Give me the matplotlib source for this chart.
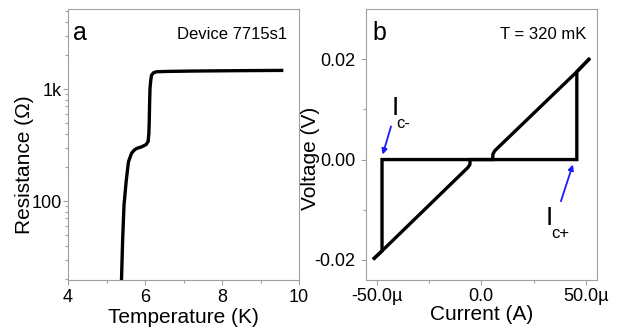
import numpy as np
import matplotlib
matplotlib.use('Agg')
import matplotlib.pyplot as plt
from matplotlib.ticker import FixedLocator, FuncFormatter, LogLocator, NullFormatter

plt.rcParams['font.family'] = ['Liberation Sans', 'DejaVu Sans']
plt.rcParams['axes.unicode_minus'] = False

# panel a: R(T)
temp_K = [5.39, 5.42, 5.455, 5.51, 5.57, 5.65, 5.72, 5.78, 5.85, 5.91, 5.97, 6.03,
          6.08, 6.10, 6.11, 6.12, 6.13, 6.15, 6.17, 6.22, 6.30, 6.6, 7.2, 8.0, 8.8, 9.55]
res_ohm = [20, 46, 92, 149, 224, 267, 285, 295, 300, 305, 312, 320,
           340, 400, 510, 750, 1015, 1200, 1333, 1400, 1430, 1440, 1450, 1458, 1465, 1470]

# panel b: I-V, up and down sweeps
i_up_uA = [-51.7, -47.4, -6.4, -5.4, -5.3, 45.7, 45.7, 52.0]
v_up_mV = [-19.9, -18.2, -1.6, -1.0, 0.0, 0.0, 17.5, 20.2]
i_dn_uA = [52.0, 45.7, 6.6, 5.6, 5.5, -47.4, -47.4, -51.7]
v_dn_mV = [20.2, 17.5, 1.8, 1.1, 0.0, 0.0, -18.2, -19.9]

GREY = '#a0a0a0'
W, H = 618, 327

fig = plt.figure(figsize=(W / 100, H / 100), dpi=100)
ax1 = fig.add_axes([68 / W, 1 - 280 / H, 231 / W, 271 / H])
ax2 = fig.add_axes([365.7 / W, 1 - 280 / H, 231 / W, 271 / H])

for ax in (ax1, ax2):
    for s in ax.spines.values():
        s.set_color(GREY)
        s.set_linewidth(0.8)
    ax.tick_params(which='both', direction='out', color=GREY, width=0.8,
                   labelsize=13, top=False, right=False)
    ax.tick_params(which='major', length=3.6)
    ax.tick_params(which='minor', length=2.2)

# --- a ---
ax1.plot(temp_K, res_ohm, color='k', lw=2.4, solid_joinstyle='round')
ax1.set_yscale('log')
ax1.set_xlim(4, 10)
ax1.set_ylim(19.7, 5200)
ax1.xaxis.set_major_locator(FixedLocator([4, 6, 8, 10]))
ax1.xaxis.set_minor_locator(FixedLocator([5, 7, 9]))
ax1.yaxis.set_major_locator(FixedLocator([100, 1000]))
ax1.yaxis.set_major_formatter(FuncFormatter(lambda v, p: '1k' if v >= 1000 else '%d' % v))
ax1.yaxis.set_minor_locator(LogLocator(base=10, subs=np.arange(2, 10)))
ax1.yaxis.set_minor_formatter(NullFormatter())
ax1.tick_params(axis='y', pad=0.8)
ax1.tick_params(axis='x', pad=3)
ax1.set_xlabel('Temperature (K)', fontsize=15)
ax1.set_ylabel('Resistance (\u03a9)', fontsize=15)
ax1.xaxis.set_label_coords(0.5, -0.103)
ax1.yaxis.set_label_coords(-0.147, 0.426)
ax1.text(0.022, 0.955, 'a', transform=ax1.transAxes, fontsize=18, va='top', ha='left')
ax1.text(0.947, 0.935, 'Device 7715s1', transform=ax1.transAxes, fontsize=12,
         va='top', ha='right')

# --- b ---
ax2.plot(np.array(i_up_uA) * 1e-6, np.array(v_up_mV) * 1e-3, color='k', lw=2.4,
         solid_capstyle='butt', solid_joinstyle='miter')
ax2.plot(np.array(i_dn_uA) * 1e-6, np.array(v_dn_mV) * 1e-3, color='k', lw=2.4,
         solid_capstyle='butt', solid_joinstyle='miter')
ax2.set_xlim(-55.2e-6, 55.2e-6)
ax2.set_ylim(-0.024, 0.030)
ax2.xaxis.set_major_locator(FixedLocator([-50e-6, 0, 50e-6]))
ax2.xaxis.set_minor_locator(FixedLocator([-25e-6, 25e-6]))
ax2.xaxis.set_major_formatter(FuncFormatter(
    lambda v, p: '0.0' if abs(v) < 1e-9 else '%.1f\u00b5' % (v * 1e6)))
ax2.yaxis.set_major_locator(FixedLocator([-0.02, 0.0, 0.02]))
ax2.yaxis.set_minor_locator(FixedLocator([-0.01, 0.01]))
ax2.yaxis.set_major_formatter(FuncFormatter(lambda v, p: '%.2f' % v))
ax2.tick_params(axis='y', pad=4)
ax2.tick_params(axis='x', pad=2.5)
ax2.set_xlabel('Current (A)', fontsize=15)
ax2.set_ylabel('Voltage (V)', fontsize=15)
ax2.xaxis.set_label_coords(0.5, -0.092)
ax2.yaxis.set_label_coords(-0.200, 0.450)
ax2.text(0.03, 0.955, 'b', transform=ax2.transAxes, fontsize=18, va='top', ha='left')
ax2.text(0.955, 0.935, 'T = 320 mK', transform=ax2.transAxes, fontsize=12,
         va='top', ha='right')

# critical current markers
ax2.annotate('', xy=(-47.1e-6, 0.001), xytext=(-43.1e-6, 0.0066),
             arrowprops=dict(arrowstyle='-|>', color='#1a1aff', lw=1.3,
                             mutation_scale=8, shrinkA=0, shrinkB=0))
ax2.annotate('', xy=(43.8e-6, -0.001), xytext=(38.1e-6, -0.0083),
             arrowprops=dict(arrowstyle='-|>', color='#1a1aff', lw=1.3,
                             mutation_scale=8, shrinkA=0, shrinkB=0))
ax2.text(-42.6e-6, 0.0088, 'I', fontsize=19, va='baseline', ha='left')
ax2.text(-40.5e-6, 0.0062, 'c-', fontsize=12, va='baseline', ha='left')
ax2.text(31.0e-6, -0.0130, 'I', fontsize=19, va='baseline', ha='left')
ax2.text(33.3e-6, -0.0156, 'c+', fontsize=12, va='baseline', ha='left')

fig.savefig('out.png', dpi=100)
